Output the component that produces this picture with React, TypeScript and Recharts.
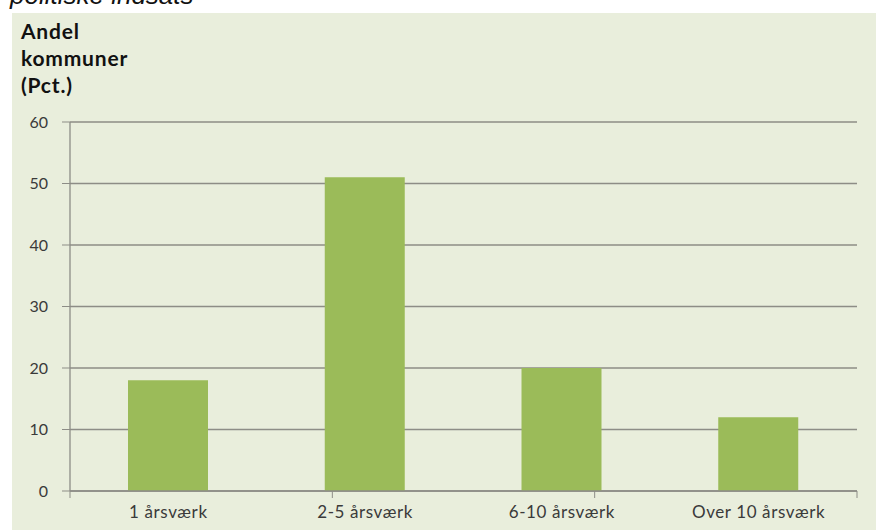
import * as React from "react"
import { BarChart, Bar, XAxis, YAxis, CartesianGrid } from "recharts"

// Andel kommuner (pct.) fordelt på antal årsværk
const categories = ["1 årsværk", "2-5 årsværk", "6-10 årsværk", "Over 10 årsværk"];
const shares = [18, 51, 20, 12];
const yTicks = [0, 10, 20, 30, 40, 50, 60];
const edgeTicks = [0, 1, 2, 3, 4];

const chartData = categories.map((name, i) => ({ name, value: shares[i] }));

const GRID = "#8d8d86";
const TEXT = "#3a3a3a";
const tickFont = "Lato, 'Open Sans', sans-serif";

export default function App() {
  return (
    <div style={{ position: "absolute", left: 0, top: 0, width: 876, height: 530, background: "#fff", overflow: "hidden" }}>
      {/* cut-off heading from the page above */}
      <div
        style={{
          position: "absolute", left: 10, top: -18, fontFamily: "'Liberation Sans', Arial, sans-serif",
          fontStyle: "italic", fontSize: 26, lineHeight: "26px", color: "#111", whiteSpace: "nowrap",
        }}
      >
        politiske indsats
      </div>
      <div style={{ position: "absolute", left: 12, top: 13, right: 0, bottom: 0, background: "#e9eedc" }} />
      <div
        style={{
          position: "absolute", left: 21, top: 17, fontFamily: "Lato, sans-serif", fontWeight: 700,
          fontSize: 21, lineHeight: "27px", letterSpacing: 0.8, color: "#111",
        }}
      >
        <div>Andel</div>
        <div>kommuner</div>
        <div>(Pct.)</div>
      </div>
      <div style={{ position: "absolute", left: 0, top: 0 }}>
        <BarChart width={876} height={530} data={chartData} margin={{ top: 122, right: 19, bottom: 0, left: 10 }}>
          <CartesianGrid vertical={false} stroke={GRID} strokeWidth={1.3} />
          <XAxis
            xAxisId="b"
            dataKey="name"
            height={38}
            axisLine={false}
            tickLine={false}
            tickSize={0}
            tickMargin={14}
            tick={{ fill: TEXT, fontSize: 17, fontFamily: tickFont, letterSpacing: 0.6 }}
            interval={0}
          />
          <XAxis
            xAxisId="a"
            type="number"
            domain={[0, 4]}
            ticks={edgeTicks}
            tickFormatter={() => ""}
            height={1}
            tickSize={7}
            axisLine={{ stroke: GRID, strokeWidth: 1.3 }}
            tickLine={{ stroke: GRID }}
          />
          <YAxis
            domain={[0, 60]}
            ticks={yTicks}
            width={60}
            tickSize={8}
            tickMargin={14}
            axisLine={{ stroke: GRID, strokeWidth: 1.3 }}
            tickLine={{ stroke: GRID }}
            tick={{ fill: TEXT, fontSize: 16, fontFamily: tickFont }}
          />
          <Bar xAxisId="b" dataKey="value" fill="#9bbb59" barSize={80} isAnimationActive={false} />
        </BarChart>
      </div>
    </div>
  )
}
